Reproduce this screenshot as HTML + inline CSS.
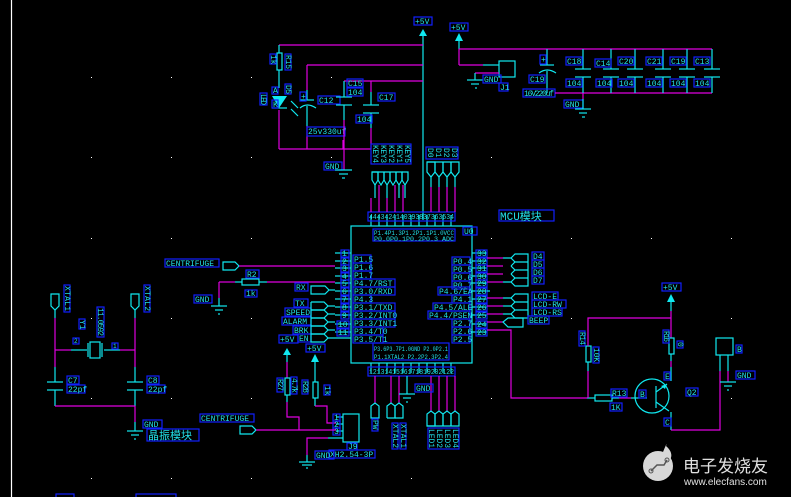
<!DOCTYPE html>
<html><head><meta charset="utf-8"><style>
html,body{margin:0;padding:0;background:#000;}
svg{display:block;}
text{font-family:"Liberation Mono","Noto Sans CJK SC",monospace;fill:#22e0e8;font-size:8px;}
.c{stroke:#10e8f0;stroke-width:1.2;fill:none;}
.m{stroke:#e000e0;stroke-width:1.2;fill:none;}
.b{stroke:#1020ff;stroke-width:1.2;fill:none;}
.f{fill:#10e8f0;stroke:none;}
.d{fill:#fff;}
</style></head><body>
<svg width="791" height="497" viewBox="0 0 791 497" xmlns="http://www.w3.org/2000/svg">
<rect width="791" height="497" fill="#000"/>
<line x1="11.5" y1="0" x2="11.5" y2="497" stroke="#fff" stroke-width="1.2"/>
<g class="d">
<rect x="91" y="77" width="1" height="1"/><rect x="171" y="77" width="1" height="1"/><rect x="251" y="77" width="1" height="1"/><rect x="331" y="77" width="1" height="1"/>
<rect x="91" y="157" width="1" height="1"/><rect x="171" y="157" width="1" height="1"/><rect x="251" y="157" width="1" height="1"/><rect x="331" y="157" width="1" height="1"/><rect x="491" y="157" width="1" height="1"/>
<rect x="91" y="238" width="1" height="1"/><rect x="171" y="238" width="1" height="1"/><rect x="251" y="238" width="1" height="1"/><rect x="491" y="238" width="1" height="1"/><rect x="571" y="238" width="1" height="1"/><rect x="651" y="238" width="1" height="1"/><rect x="731" y="238" width="1" height="1"/>
<rect x="91" y="318" width="1" height="1"/><rect x="171" y="318" width="1" height="1"/><rect x="251" y="318" width="1" height="1"/><rect x="571" y="318" width="1" height="1"/><rect x="731" y="318" width="1" height="1"/>
<rect x="91" y="398" width="1" height="1"/><rect x="171" y="398" width="1" height="1"/><rect x="251" y="398" width="1" height="1"/><rect x="491" y="398" width="1" height="1"/><rect x="731" y="398" width="1" height="1"/>
<rect x="91" y="478" width="1" height="1"/><rect x="171" y="478" width="1" height="1"/><rect x="251" y="478" width="1" height="1"/><rect x="411" y="478" width="1" height="1"/>
</g>

<rect class="b" x="414" y="17" width="18" height="8"/><text x="415" y="24">+5V</text>
<polygon class="f" points="423,29 419,36 427,36"/>
<line class="c" x1="423" y1="36" x2="423" y2="220"/>
<line class="m" x1="279" y1="45" x2="423" y2="45"/>
<line class="m" x1="307" y1="65" x2="423" y2="65"/>
<line class="m" x1="344" y1="81" x2="423" y2="81"/>
<line class="m" x1="279" y1="149" x2="371" y2="149"/>
<line class="c" x1="279" y1="45" x2="279" y2="53"/>
<rect class="c" x="277" y="53" width="5" height="17"/>
<line class="c" x1="279" y1="70" x2="279" y2="88"/>
<rect class="b" x="270" y="54" width="6" height="10"/><text transform="translate(271,55) rotate(90)">1k</text>
<rect class="b" x="285" y="54" width="6" height="16"/><text transform="translate(286,55) rotate(90)" textLength="14">R15</text>
<polygon class="f" points="272,96 287,96 279,108"/>
<line class="c" x1="272" y1="108" x2="287" y2="108"/>
<line class="m" x1="279" y1="110" x2="279" y2="149"/>
<line class="c" x1="291" y1="101" x2="298" y2="108"/><line class="c" x1="291" y1="109" x2="298" y2="116"/>
<rect class="b" x="272" y="87" width="6" height="7"/><text x="273" y="93">A</text>
<rect class="b" x="285" y="84" width="6" height="10"/><text transform="translate(286,85) rotate(90)" textLength="9">D5</text>
<rect class="b" x="260" y="93" width="7" height="12"/><text transform="translate(261,94) rotate(90)" textLength="11">LED</text>
<rect class="b" x="272" y="100" width="6" height="8"/><text x="273" y="107">K</text>
<line class="m" x1="307" y1="65" x2="307" y2="90"/>
<line class="c" x1="307" y1="90" x2="307" y2="100"/>
<line class="c" x1="300" y1="100" x2="314" y2="100"/>
<path class="c" d="M300,108 Q307,102 316,108"/>
<line class="c" x1="307" y1="106" x2="307" y2="126"/>
<line class="m" x1="307" y1="126" x2="307" y2="149"/>
<rect class="b" x="300" y="92" width="6" height="9"/><text x="301" y="99">+</text>
<rect class="b" x="318" y="96" width="22" height="8"/><text x="319" y="103">C12</text>
<rect class="b" x="307" y="127" width="38" height="9"/><text x="308" y="134">25v330uf</text>
<line class="c" x1="344" y1="81" x2="344" y2="97"/>
<line class="c" x1="336" y1="97" x2="352" y2="97"/><line class="c" x1="336" y1="105" x2="352" y2="105"/>
<line class="c" x1="344" y1="105" x2="344" y2="120"/>
<line class="m" x1="344" y1="120" x2="344" y2="170"/>
<rect class="b" x="347" y="79" width="16" height="8"/><text x="348" y="86">C15</text>
<rect class="b" x="347" y="88" width="16" height="8"/><text x="348" y="95">104</text>
<line class="m" x1="371" y1="81" x2="371" y2="92"/>
<line class="c" x1="371" y1="92" x2="371" y2="105"/>
<line class="c" x1="363" y1="105" x2="379" y2="105"/><line class="c" x1="363" y1="113" x2="379" y2="113"/>
<line class="c" x1="371" y1="113" x2="371" y2="128"/>
<line class="m" x1="371" y1="128" x2="371" y2="149"/>
<rect class="b" x="378" y="93" width="17" height="8"/><text x="379" y="100">C17</text>
<rect class="b" x="356" y="115" width="16" height="8"/><text x="357" y="122">104</text>
<rect class="b" x="324" y="162" width="18" height="8"/><text x="325" y="169">GND</text>
<line class="c" x1="335" y1="170" x2="352" y2="170"/><line class="c" x1="339" y1="174" x2="348" y2="174"/><line class="c" x1="342" y1="178" x2="345" y2="178"/>

<rect class="b" x="450" y="23" width="18" height="8"/><text x="451" y="30">+5V</text>
<polygon class="f" points="459,33 455,41 463,41"/>
<line class="c" x1="459" y1="41" x2="459" y2="49"/>
<line class="m" x1="459" y1="49" x2="712" y2="49"/>
<line class="m" x1="459" y1="49" x2="459" y2="65"/>
<line class="m" x1="459" y1="65" x2="483" y2="65"/>
<line class="c" x1="483" y1="65" x2="499" y2="65"/>
<rect class="c" x="499" y="61" width="16" height="16"/>
<line class="m" x1="475" y1="73" x2="499" y2="73"/>
<line class="c" x1="475" y1="73" x2="475" y2="80"/>
<line class="c" x1="467" y1="80" x2="483" y2="80"/><line class="c" x1="471" y1="84" x2="479" y2="84"/><line class="c" x1="475" y1="88" x2="477" y2="88"/>
<rect class="b" x="483" y="75" width="18" height="8"/><text x="484" y="82">GND</text>
<rect class="b" x="499" y="83" width="9" height="8"/><text x="500" y="90">J1</text>
<line class="c" x1="547" y1="49" x2="547" y2="65"/>
<line class="c" x1="540" y1="65" x2="554" y2="65"/>
<path class="c" d="M539,73 Q547,67 556,73"/>
<line class="c" x1="547" y1="71" x2="547" y2="93"/>
<rect class="b" x="540" y="55" width="6" height="9"/><text x="541" y="62">+</text>
<rect class="b" x="529" y="75" width="16" height="8"/><text x="530" y="82">C19</text>
<rect class="b" x="523" y="89" width="32" height="8"/><text x="524" y="96" textLength="30">16V220uf</text>
<line class="m" x1="555" y1="93" x2="712" y2="93"/>
<g>
<line class="c" x1="583" y1="49" x2="583" y2="69"/><line class="c" x1="575" y1="69" x2="591" y2="69"/><line class="c" x1="575" y1="77" x2="591" y2="77"/><line class="c" x1="583" y1="77" x2="583" y2="93"/>
<line class="c" x1="611" y1="49" x2="611" y2="69"/><line class="c" x1="603" y1="69" x2="619" y2="69"/><line class="c" x1="603" y1="77" x2="619" y2="77"/><line class="c" x1="611" y1="77" x2="611" y2="93"/>
<line class="c" x1="635" y1="49" x2="635" y2="69"/><line class="c" x1="627" y1="69" x2="643" y2="69"/><line class="c" x1="627" y1="77" x2="643" y2="77"/><line class="c" x1="635" y1="77" x2="635" y2="93"/>
<line class="c" x1="663" y1="49" x2="663" y2="69"/><line class="c" x1="655" y1="69" x2="671" y2="69"/><line class="c" x1="655" y1="77" x2="671" y2="77"/><line class="c" x1="663" y1="77" x2="663" y2="93"/>
<line class="c" x1="687" y1="49" x2="687" y2="69"/><line class="c" x1="679" y1="69" x2="695" y2="69"/><line class="c" x1="679" y1="77" x2="695" y2="77"/><line class="c" x1="687" y1="77" x2="687" y2="93"/>
<line class="c" x1="712" y1="49" x2="712" y2="69"/><line class="c" x1="704" y1="69" x2="720" y2="69"/><line class="c" x1="704" y1="77" x2="720" y2="77"/><line class="c" x1="712" y1="77" x2="712" y2="93"/>
</g>
<rect class="b" x="566" y="57" width="16" height="8"/><text x="567" y="64">C18</text>
<rect class="b" x="595" y="59" width="16" height="8"/><text x="596" y="66">C14</text>
<rect class="b" x="618" y="57" width="16" height="8"/><text x="619" y="64">C20</text>
<rect class="b" x="646" y="57" width="16" height="8"/><text x="647" y="64">C21</text>
<rect class="b" x="670" y="57" width="16" height="8"/><text x="671" y="64">C19</text>
<rect class="b" x="694" y="57" width="16" height="8"/><text x="695" y="64">C13</text>
<rect class="b" x="566" y="79" width="16" height="8"/><text x="567" y="86">104</text>
<rect class="b" x="596" y="79" width="16" height="8"/><text x="597" y="86">104</text>
<rect class="b" x="618" y="79" width="16" height="8"/><text x="619" y="86">104</text>
<rect class="b" x="646" y="79" width="16" height="8"/><text x="647" y="86">104</text>
<rect class="b" x="670" y="79" width="16" height="8"/><text x="671" y="86">104</text>
<rect class="b" x="694" y="79" width="16" height="8"/><text x="695" y="86">104</text>
<line class="m" x1="583" y1="93" x2="583" y2="99"/>
<rect class="b" x="564" y="100" width="19" height="8"/><text x="565" y="107">GND</text>
<line class="c" x1="583" y1="99" x2="583" y2="109"/>
<line class="c" x1="575" y1="109" x2="591" y2="109"/><line class="c" x1="579" y1="113" x2="587" y2="113"/><line class="c" x1="582" y1="117" x2="585" y2="117"/>

<rect class="c" x="351" y="226" width="121" height="137"/>
<rect class="b" x="463" y="227" width="14" height="8"/><text x="464" y="234">U0</text>
<rect class="b" x="499" y="210" width="55" height="11"/><text x="500" y="220" style="font-size:11px">MCU模块</text>
<g>
<line class="c" x1="371" y1="215" x2="371" y2="226"/><line class="c" x1="379" y1="215" x2="379" y2="226"/><line class="c" x1="387" y1="215" x2="387" y2="226"/><line class="c" x1="395" y1="215" x2="395" y2="226"/><line class="c" x1="403" y1="215" x2="403" y2="226"/><line class="c" x1="411" y1="215" x2="411" y2="226"/><line class="c" x1="419" y1="215" x2="419" y2="226"/><line class="c" x1="427" y1="215" x2="427" y2="226"/><line class="c" x1="435" y1="215" x2="435" y2="226"/><line class="c" x1="443" y1="215" x2="443" y2="226"/><line class="c" x1="451" y1="215" x2="451" y2="226"/>
</g>
<rect class="b" x="368" y="212" width="87" height="9"/>
<text x="369" y="219" style="font-size:7px" textLength="85" lengthAdjust="spacingAndGlyphs">4443424140393837363534</text>
<rect class="b" x="373" y="229" width="82" height="12"/>
<text x="374" y="235" style="font-size:6px" textLength="80" lengthAdjust="spacingAndGlyphs">P1.4P1.3P1.2P1.1P1.0VCC</text>
<text x="374" y="241" style="font-size:6px" textLength="80" lengthAdjust="spacingAndGlyphs">P0.0P0.1P0.2P0.3 ADC</text>
<g class="c">
<path d="M372,172 V180 L375,185 L378,180 V172 Z"/><path d="M378,172 V180 L381,185 L384,180 V172"/><path d="M384,172 V180 L387,185 L390,180 V172"/><path d="M390,172 V180 L393,185 L396,180 V172"/><path d="M396,172 V180 L399,185 L402,180 V172 H372"/><path d="M402,172 V180 L405,185 L408,180 V172 H402"/>
<path d="M427,162 V172 L431,177 L435,172 V162 Z"/><path d="M435,162 V172 L439,177 L443,172 V162"/><path d="M443,162 V172 L447,177 L451,172 V162"/><path d="M451,162 V172 L455,177 L459,172 V162 H427"/>
<line x1="375" y1="185" x2="375" y2="198"/><line x1="387" y1="185" x2="387" y2="198"/><line x1="399" y1="185" x2="399" y2="198"/><line x1="405" y1="185" x2="405" y2="198"/>
<line x1="431" y1="177" x2="431" y2="187"/><line x1="439" y1="177" x2="439" y2="187"/><line x1="447" y1="177" x2="447" y2="187"/><line x1="455" y1="177" x2="455" y2="187"/>
</g>
<g class="m"><line x1="379" y1="185" x2="379" y2="212"/><line x1="387" y1="198" x2="387" y2="212"/><line x1="395" y1="185" x2="395" y2="212"/><line x1="403" y1="185" x2="403" y2="212"/><line x1="371" y1="198" x2="371" y2="212"/>
<line x1="431" y1="187" x2="431" y2="212"/><line x1="439" y1="187" x2="439" y2="212"/><line x1="447" y1="187" x2="447" y2="212"/><line x1="455" y1="187" x2="455" y2="212"/>
<line x1="343" y1="140" x2="343" y2="149"/>
</g>
<rect class="b" x="371" y="144" width="40" height="20"/>
<text transform="translate(373,145) rotate(90)" textLength="18">KEY4</text><text transform="translate(381,145) rotate(90)" textLength="18">KEY3</text><text transform="translate(389,145) rotate(90)" textLength="18">KEY2</text><text transform="translate(397,145) rotate(90)" textLength="18">KEY1</text><text transform="translate(405,145) rotate(90)" textLength="18">KEY5</text>
<rect class="b" x="426" y="147" width="32" height="12"/>
<text transform="translate(428,148) rotate(90)">D0</text><text transform="translate(436,148) rotate(90)">D1</text><text transform="translate(444,148) rotate(90)">D2</text><text transform="translate(452,148) rotate(90)">D3</text>

<g class="c">
<line x1="335" y1="253" x2="351" y2="253"/><line x1="335" y1="261" x2="351" y2="261"/><line x1="335" y1="268" x2="351" y2="268"/><line x1="335" y1="276" x2="351" y2="276"/><line x1="335" y1="283" x2="351" y2="283"/><line x1="335" y1="291" x2="351" y2="291"/><line x1="335" y1="299" x2="351" y2="299"/><line x1="335" y1="307" x2="351" y2="307"/><line x1="335" y1="315" x2="351" y2="315"/><line x1="335" y1="324" x2="351" y2="324"/><line x1="335" y1="332" x2="351" y2="332"/>
</g>
<g>
<rect class="b" x="341" y="250" width="8" height="7"/><text x="342" y="256">1</text>
<rect class="b" x="341" y="258" width="8" height="7"/><text x="342" y="264">2</text>
<rect class="b" x="341" y="265" width="8" height="7"/><text x="342" y="271">3</text>
<rect class="b" x="341" y="273" width="8" height="7"/><text x="342" y="279">4</text>
<rect class="b" x="341" y="280" width="8" height="7"/><text x="342" y="286">5</text>
<rect class="b" x="341" y="288" width="8" height="7"/><text x="342" y="294">6</text>
<rect class="b" x="341" y="296" width="8" height="7"/><text x="342" y="302">7</text>
<rect class="b" x="341" y="304" width="8" height="7"/><text x="342" y="310">8</text>
<rect class="b" x="341" y="312" width="8" height="7"/><text x="342" y="318">9</text>
<rect class="b" x="337" y="321" width="12" height="7"/><text x="338" y="327">10</text>
<rect class="b" x="337" y="329" width="12" height="7"/><text x="338" y="335">11</text>
</g>
<g>
<rect class="b" x="353" y="255" width="18" height="8"/><text x="354" y="262">P1.5</text>
<rect class="b" x="353" y="263" width="18" height="8"/><text x="354" y="270">P1.6</text>
<rect class="b" x="353" y="271" width="18" height="8"/><text x="354" y="278">P1.7</text>
<rect class="b" x="353" y="279" width="42" height="8"/><text x="354" y="286">P4.7/RST</text>
<rect class="b" x="353" y="287" width="42" height="8"/><text x="354" y="294">P3.0/RXD</text>
<rect class="b" x="353" y="295" width="18" height="8"/><text x="354" y="302">P4.3</text>
<rect class="b" x="353" y="303" width="42" height="8"/><text x="354" y="310">P3.1/TXD</text>
<rect class="b" x="353" y="311" width="42" height="8"/><text x="354" y="318">P3.2/INT0</text>
<rect class="b" x="353" y="319" width="42" height="8"/><text x="354" y="326">P3.3/INT1</text>
<rect class="b" x="353" y="327" width="30" height="8"/><text x="354" y="334">P3.4/T0</text>
<rect class="b" x="353" y="335" width="30" height="8"/><text x="354" y="342">P3.5/T1</text>
</g>
<g class="c">
<line x1="472" y1="253" x2="487" y2="253"/><line x1="472" y1="261" x2="487" y2="261"/><line x1="472" y1="268" x2="487" y2="268"/><line x1="472" y1="276" x2="487" y2="276"/><line x1="472" y1="283" x2="487" y2="283"/><line x1="472" y1="291" x2="487" y2="291"/><line x1="472" y1="299" x2="487" y2="299"/><line x1="472" y1="307" x2="487" y2="307"/><line x1="472" y1="315" x2="487" y2="315"/><line x1="472" y1="324" x2="487" y2="324"/><line x1="472" y1="332" x2="487" y2="332"/>
</g>
<g>
<rect class="b" x="476" y="250" width="11" height="7"/><text x="477" y="256">33</text>
<rect class="b" x="476" y="258" width="11" height="7"/><text x="477" y="264">32</text>
<rect class="b" x="476" y="265" width="11" height="7"/><text x="477" y="271">31</text>
<rect class="b" x="476" y="273" width="11" height="7"/><text x="477" y="279">30</text>
<rect class="b" x="476" y="280" width="11" height="7"/><text x="477" y="286">29</text>
<rect class="b" x="476" y="288" width="11" height="7"/><text x="477" y="294">28</text>
<rect class="b" x="476" y="296" width="11" height="7"/><text x="477" y="302">27</text>
<rect class="b" x="476" y="304" width="11" height="7"/><text x="477" y="310">26</text>
<rect class="b" x="476" y="312" width="11" height="7"/><text x="477" y="318">25</text>
<rect class="b" x="476" y="321" width="11" height="7"/><text x="477" y="327">24</text>
<rect class="b" x="476" y="329" width="11" height="7"/><text x="477" y="335">23</text>
</g>
<g>
<rect class="b" x="452" y="257" width="18" height="8"/><text x="453" y="264">P0.4</text>
<rect class="b" x="452" y="265" width="18" height="8"/><text x="453" y="272">P0.5</text>
<rect class="b" x="452" y="273" width="18" height="8"/><text x="453" y="280">P0.6</text>
<rect class="b" x="452" y="281" width="18" height="8"/><text x="453" y="288">P0.7</text>
<rect class="b" x="438" y="287" width="32" height="8"/><text x="439" y="294">P4.6/EA</text>
<rect class="b" x="452" y="295" width="18" height="8"/><text x="453" y="302">P4.1</text>
<rect class="b" x="433" y="303" width="37" height="8"/><text x="434" y="310">P4.5/ALE</text>
<rect class="b" x="428" y="311" width="42" height="8"/><text x="429" y="318">P4.4/PSEN</text>
<rect class="b" x="452" y="319" width="18" height="8"/><text x="453" y="326">P2.7</text>
<rect class="b" x="452" y="327" width="18" height="8"/><text x="453" y="334">P2.6</text>
<rect class="b" x="452" y="335" width="18" height="8"/><text x="453" y="342">P2.5</text>
</g>
<g class="c">
<line x1="371" y1="363" x2="371" y2="373"/><line x1="379" y1="363" x2="379" y2="373"/><line x1="387" y1="363" x2="387" y2="373"/><line x1="395" y1="363" x2="395" y2="373"/><line x1="403" y1="363" x2="403" y2="373"/><line x1="411" y1="363" x2="411" y2="373"/><line x1="419" y1="363" x2="419" y2="373"/><line x1="427" y1="363" x2="427" y2="373"/><line x1="435" y1="363" x2="435" y2="373"/><line x1="443" y1="363" x2="443" y2="373"/><line x1="451" y1="363" x2="451" y2="373"/>
</g>
<rect class="b" x="373" y="343" width="76" height="17"/>
<text x="374" y="351" style="font-size:6px" textLength="74" lengthAdjust="spacingAndGlyphs">P3.6P3.7P1.0GND P2.0P2.1</text>
<text x="374" y="359" style="font-size:6px" textLength="74" lengthAdjust="spacingAndGlyphs">P1.1XTAL2 P2.2P2.3P2.4</text>
<rect class="b" x="368" y="367" width="87" height="9"/>
<text x="369" y="374" style="font-size:7px" textLength="85" lengthAdjust="spacingAndGlyphs">1213141516171819202122</text>
<g class="m"><line x1="375" y1="376" x2="375" y2="403"/><line x1="391" y1="376" x2="391" y2="403"/><line x1="431" y1="376" x2="431" y2="411"/><line x1="439" y1="376" x2="439" y2="411"/><line x1="447" y1="376" x2="447" y2="411"/><line x1="455" y1="376" x2="455" y2="411"/><line x1="399" y1="376" x2="399" y2="403"/></g>
<line class="c" x1="407" y1="376" x2="407" y2="394"/>
<line class="c" x1="399" y1="394" x2="415" y2="394"/><line class="c" x1="403" y1="398" x2="411" y2="398"/><line class="c" x1="406" y1="402" x2="408" y2="402"/>
<rect class="b" x="415" y="384" width="18" height="8"/><text x="416" y="391">GND</text>
<g class="c">
<path d="M371,418 V406 L375,403 L379,406 V418 Z"/>
<path d="M387,418 V406 L391,403 L395,406 V418 H387"/><path d="M395,418 V406 L399,403 L403,406 V418 H395"/>
<path d="M427,426 V414 L431,411 L435,414 V426 Z"/><path d="M435,426 V414 L439,411 L443,414 V426"/><path d="M443,426 V414 L447,411 L451,414 V426"/><path d="M451,426 V414 L455,411 L459,414 V426 H427"/>
</g>
<rect class="b" x="372" y="419" width="6" height="12"/><text transform="translate(373,420) rotate(90)">PW</text>
<rect class="b" x="392" y="423" width="6" height="26"/><text transform="translate(393,424) rotate(90)" textLength="24">XTAL2</text>
<rect class="b" x="400" y="423" width="6" height="26"/><text transform="translate(401,424) rotate(90)" textLength="24">XTAL1</text>
<rect class="b" x="428" y="428" width="31" height="21"/>
<text transform="translate(429,429) rotate(90)" textLength="19">LED1</text><text transform="translate(437,429) rotate(90)" textLength="19">LED2</text><text transform="translate(445,429) rotate(90)" textLength="19">LED3</text><text transform="translate(453,429) rotate(90)" textLength="19">LED4</text>

<rect class="b" x="165" y="259" width="54" height="8"/><text x="166" y="266">CENTRIFUGE</text>
<path class="c" d="M223,262 H235 L239,266 L235,270 H223 Z"/>
<line class="m" x1="239" y1="266" x2="335" y2="266"/>
<rect class="b" x="246" y="270" width="13" height="8"/><text x="247" y="277">R2</text>
<line class="m" x1="219" y1="282" x2="235" y2="282"/>
<line class="c" x1="235" y1="282" x2="242" y2="282"/>
<rect class="c" x="242" y="279" width="17" height="6"/>
<line class="c" x1="259" y1="282" x2="267" y2="282"/>
<line class="m" x1="267" y1="282" x2="335" y2="282"/>
<rect class="b" x="245" y="290" width="12" height="7"/><text x="246" y="296">1k</text>
<line class="m" x1="219" y1="282" x2="219" y2="298"/>
<line class="c" x1="219" y1="298" x2="219" y2="306"/>
<line class="c" x1="211" y1="306" x2="227" y2="306"/><line class="c" x1="215" y1="310" x2="223" y2="310"/><line class="c" x1="218" y1="314" x2="220" y2="314"/>
<rect class="b" x="194" y="295" width="18" height="8"/><text x="195" y="302">GND</text>
<rect class="b" x="295" y="283" width="13" height="8"/><text x="296" y="290">RX</text>
<path class="c" d="M311,286 H325 L329,290 L325,294 H311 Z"/><line class="c" x1="329" y1="290" x2="335" y2="290"/>
<rect class="b" x="294" y="299" width="14" height="8"/><text x="295" y="306">TX</text>
<rect class="b" x="285" y="308" width="26" height="8"/><text x="286" y="315">SPEED</text>
<rect class="b" x="282" y="317" width="29" height="8"/><text x="283" y="324">ALARM</text>
<rect class="b" x="293" y="326" width="18" height="8"/><text x="294" y="333">BRK</text>
<rect class="b" x="298" y="334" width="13" height="8"/><text x="299" y="341">EN</text>
<g class="c">
<path d="M311,302 H324 L328,306 L324,310 H311"/><path d="M311,310 H324 L328,314 L324,318 H311"/><path d="M311,318 H324 L328,322 L324,326 H311"/><path d="M311,326 H324 L328,330 L324,334 H311"/><path d="M311,334 H324 L328,338 L324,342 H311 V302"/>
<line x1="328" y1="306" x2="335" y2="306"/><line x1="328" y1="314" x2="335" y2="314"/><line x1="328" y1="322" x2="335" y2="322"/><line x1="328" y1="330" x2="335" y2="330"/><line x1="328" y1="338" x2="351" y2="338"/>
</g>
<rect class="b" x="279" y="335" width="19" height="8"/><text x="280" y="342">+5V</text>
<polygon class="f" points="287,348 283,355 291,355"/>
<line class="c" x1="287" y1="355" x2="287" y2="362"/><line class="m" x1="287" y1="362" x2="287" y2="378"/>
<rect class="c" x="285" y="378" width="5" height="17"/>
<line class="c" x1="287" y1="395" x2="287" y2="402"/>
<path class="m" d="M287,402 V417 H299 V430"/>
<rect class="b" x="277" y="378" width="6" height="14"/><text transform="translate(278,379) rotate(90)" textLength="12">R27</text>
<rect class="b" x="291" y="377" width="6" height="17"/><text transform="translate(292,378) rotate(90)" textLength="15">4.7k</text>
<rect class="b" x="306" y="344" width="19" height="8"/><text x="307" y="351">+5V</text>
<polygon class="f" points="315,354 311,362 319,362"/>
<line class="c" x1="315" y1="362" x2="315" y2="382"/>
<rect class="c" x="313" y="382" width="5" height="16"/>
<line class="c" x1="315" y1="398" x2="315" y2="406"/>
<path class="m" d="M315,406 H327 V423 H336"/>
<rect class="b" x="302" y="380" width="6" height="14"/><text transform="translate(303,381) rotate(90)" textLength="12">R28</text>
<rect class="b" x="324" y="385" width="6" height="10"/><text transform="translate(325,386) rotate(90)">1k</text>
<rect class="c" x="343" y="414" width="16" height="28"/>
<line class="c" x1="336" y1="417" x2="343" y2="417"/><line class="c" x1="336" y1="424" x2="343" y2="424"/><line class="c" x1="336" y1="431" x2="343" y2="431"/>
<rect class="b" x="333" y="414" width="7" height="7"/><text x="334" y="420">1</text>
<rect class="b" x="333" y="421" width="7" height="7"/><text x="334" y="427">2</text>
<rect class="b" x="333" y="428" width="7" height="7"/><text x="334" y="434">3</text>
<rect class="b" x="347" y="443" width="10" height="7"/><text x="348" y="449">J9</text>
<rect class="b" x="329" y="450" width="46" height="8"/><text x="330" y="457">XH2.54-3P</text>
<rect class="b" x="200" y="414" width="54" height="8"/><text x="201" y="421">CENTRIFUGE</text>
<path class="c" d="M240,426 H252 L256,430 L252,434 H240 Z"/>
<line class="m" x1="256" y1="430" x2="336" y2="430"/>
<path class="m" d="M307,455 V438 H328"/><line class="c" x1="328" y1="438" x2="343" y2="438"/>
<line class="c" x1="299" y1="462" x2="315" y2="462"/><line class="c" x1="302" y1="465" x2="312" y2="465"/><line class="c" x1="306" y1="468" x2="308" y2="468"/>
<line class="c" x1="307" y1="455" x2="307" y2="462"/>
<rect class="b" x="315" y="451" width="19" height="8"/><text x="316" y="458">GND</text>

<path class="c" d="M51,294 V306 L55,310 L59,306 V294 Z"/>
<path class="c" d="M131,294 V306 L135,310 L139,306 V294 Z"/>
<line class="c" x1="55" y1="310" x2="55" y2="318"/><line class="c" x1="135" y1="310" x2="135" y2="318"/>
<line class="m" x1="55" y1="318" x2="55" y2="367"/><line class="m" x1="135" y1="318" x2="135" y2="367"/>
<rect class="b" x="64" y="285" width="6" height="27"/><text transform="translate(65,286) rotate(90)" textLength="25">XTAL1</text>
<rect class="b" x="144" y="285" width="6" height="27"/><text transform="translate(145,286) rotate(90)" textLength="25">XTAL2</text>
<line class="m" x1="55" y1="350" x2="71" y2="350"/><line class="c" x1="71" y1="350" x2="87" y2="350"/>
<line class="c" x1="88" y1="343" x2="88" y2="357"/><line class="c" x1="102" y1="343" x2="102" y2="357"/>
<rect class="c" x="90" y="342" width="10" height="16"/>
<line class="c" x1="104" y1="350" x2="120" y2="350"/><line class="m" x1="120" y1="350" x2="135" y2="350"/>
<rect class="b" x="73" y="338" width="6" height="6"/><text x="74" y="343" style="font-size:6px">2</text>
<rect class="b" x="112" y="343" width="6" height="6"/><text x="113" y="348" style="font-size:6px">1</text>
<rect class="b" x="79" y="319" width="6" height="10"/><text transform="translate(80,320) rotate(90)">Y1</text>
<rect class="b" x="97" y="307" width="7" height="30"/><text transform="translate(98,308) rotate(90)" textLength="28">11.0592</text>
<line class="c" x1="55" y1="367" x2="55" y2="382"/><line class="c" x1="47" y1="382" x2="63" y2="382"/><line class="c" x1="47" y1="390" x2="63" y2="390"/><line class="c" x1="55" y1="390" x2="55" y2="406"/>
<line class="c" x1="135" y1="367" x2="135" y2="382"/><line class="c" x1="127" y1="382" x2="143" y2="382"/><line class="c" x1="127" y1="390" x2="143" y2="390"/><line class="c" x1="135" y1="390" x2="135" y2="406"/>
<rect class="b" x="67" y="376" width="12" height="8"/><text x="68" y="383">C7</text>
<rect class="b" x="67" y="385" width="18" height="8"/><text x="68" y="392">22pf</text>
<rect class="b" x="147" y="376" width="12" height="8"/><text x="148" y="383">C8</text>
<rect class="b" x="147" y="385" width="18" height="8"/><text x="148" y="392">22pf</text>
<line class="m" x1="55" y1="406" x2="135" y2="406"/>
<line class="m" x1="135" y1="406" x2="135" y2="422"/><line class="c" x1="135" y1="422" x2="135" y2="431"/>
<line class="c" x1="127" y1="431" x2="143" y2="431"/><line class="c" x1="131" y1="435" x2="139" y2="435"/><line class="c" x1="134" y1="439" x2="136" y2="439"/>
<rect class="b" x="143" y="420" width="19" height="8"/><text x="144" y="427">GND</text>
<rect class="b" x="147" y="429" width="52" height="12"/><text x="148" y="439" style="font-size:11px">晶振模块</text>

<g class="m"><line x1="487" y1="258" x2="503" y2="258"/><line x1="487" y1="266" x2="503" y2="266"/><line x1="487" y1="274" x2="503" y2="274"/><line x1="487" y1="282" x2="503" y2="282"/>
<line x1="487" y1="298" x2="503" y2="298"/><line x1="487" y1="306" x2="503" y2="306"/><line x1="487" y1="314" x2="503" y2="314"/><line x1="487" y1="322" x2="503" y2="322"/></g>
<g class="c">
<path d="M503,258 H511 L515,254 H528 V286 H515 L511,282 H503"/><path d="M511,266 L515,262 H528"/><path d="M511,266 L515,270 H528"/><path d="M511,274 L515,278 H528"/><path d="M511,274 L515,270"/><path d="M511,258 L515,262"/><path d="M511,282 L515,278"/>
<path d="M503,298 H511 L515,294 H528 V318 H515 L511,314 H503"/><path d="M511,298 L515,302 H528"/><path d="M511,306 L515,302"/><path d="M511,306 L515,310 H528"/><path d="M511,314 L515,310"/><line x1="503" y1="306" x2="511" y2="306"/>
<path d="M503,322 L508,318 H523 V327 H508 Z"/>
<line x1="487" y1="291" x2="490" y2="291"/>
</g>
<rect class="b" x="532" y="252" width="12" height="8"/><text x="533" y="259">D4</text>
<rect class="b" x="532" y="260" width="12" height="8"/><text x="533" y="267">D5</text>
<rect class="b" x="532" y="268" width="12" height="8"/><text x="533" y="275">D6</text>
<rect class="b" x="532" y="276" width="12" height="8"/><text x="533" y="283">D7</text>
<rect class="b" x="532" y="292" width="26" height="8"/><text x="533" y="299">LCD-E</text>
<rect class="b" x="532" y="300" width="34" height="8"/><text x="533" y="307">LCD-RW</text>
<rect class="b" x="532" y="308" width="30" height="8"/><text x="533" y="315">LCD-RS</text>
<rect class="b" x="528" y="316" width="21" height="8"/><text x="529" y="323">BEEP</text>
<path class="m" d="M487,330 H511 V398 H587"/>
<line class="c" x1="587" y1="398" x2="595" y2="398"/>
<rect class="c" x="595" y="395" width="17" height="6"/>
<line class="c" x1="612" y1="398" x2="619" y2="398"/><line class="m" x1="619" y1="398" x2="631" y2="398"/><line class="c" x1="631" y1="398" x2="647" y2="398"/>
<rect class="b" x="611" y="389" width="16" height="8"/><text x="612" y="396">R13</text>
<rect class="b" x="610" y="403" width="12" height="8"/><text x="611" y="410">1K</text>
<rect class="b" x="639" y="390" width="7" height="8"/><text x="640" y="397">B</text>
<path class="m" d="M588,398 V371"/><line class="c" x1="588" y1="371" x2="588" y2="362"/>
<rect class="c" x="586" y="346" width="5" height="16"/>
<path class="m" d="M588,346 V318 H671"/>
<rect class="b" x="579" y="331" width="6" height="15"/><text transform="translate(580,332) rotate(90)" textLength="13">R14</text>
<rect class="b" x="593" y="347" width="6" height="16"/><text transform="translate(594,348) rotate(90)" textLength="14">10K</text>
<rect class="b" x="662" y="283" width="19" height="8"/><text x="663" y="290">+5V</text>
<polygon class="f" points="671,294 667,302 675,302"/>
<line class="c" x1="671" y1="302" x2="671" y2="311"/><line class="m" x1="671" y1="311" x2="671" y2="338"/>
<rect class="c" x="669" y="338" width="5" height="16"/>
<line class="c" x1="671" y1="354" x2="671" y2="361"/><line class="m" x1="671" y1="361" x2="671" y2="367"/><line class="c" x1="671" y1="367" x2="671" y2="381"/>
<rect class="b" x="663" y="330" width="6" height="13"/><text transform="translate(664,331) rotate(90)" textLength="11">R16</text>
<rect class="b" x="677" y="341" width="6" height="7"/><text transform="translate(678,342) rotate(90)">0</text>
<rect class="b" x="664" y="372" width="6" height="8"/><text x="665" y="379">E</text>
<circle class="c" cx="652" cy="396" r="17"/>
<line class="c" x1="656" y1="386" x2="656" y2="408"/>
<line class="c" x1="656" y1="392" x2="667" y2="384"/><line class="c" x1="656" y1="402" x2="669" y2="411"/>
<polygon class="f" points="667,384 661,386 665,389"/>
<line class="c" x1="671" y1="412" x2="671" y2="430"/>
<rect class="b" x="664" y="418" width="7" height="8"/><text x="665" y="425">C</text>
<rect class="b" x="686" y="388" width="12" height="8"/><text x="687" y="395">Q2</text>
<path class="m" d="M671,430 H720 V371"/>
<line class="c" x1="720" y1="371" x2="720" y2="355"/>
<rect class="c" x="716" y="338" width="17" height="17"/>
<line class="c" x1="728" y1="355" x2="728" y2="371"/><line class="m" x1="728" y1="371" x2="728" y2="382"/>
<line class="c" x1="720" y1="382" x2="736" y2="382"/><line class="c" x1="724" y1="386" x2="732" y2="386"/><line class="c" x1="727" y1="390" x2="729" y2="390"/>
<rect class="b" x="736" y="345" width="6" height="8"/><text x="737" y="352">B</text>
<rect class="b" x="736" y="371" width="19" height="8"/><text x="737" y="378">GND</text>

<rect class="b" x="56" y="494" width="18" height="4"/>
<rect class="b" x="136" y="494" width="40" height="4"/>

<circle cx="658" cy="466" r="15" fill="#d8d8d8"/>
<path d="M663,452 Q668,440 666,446 Q674,453 670,460" fill="#d8d8d8"/>
<path d="M651,471 L657,465 L664,465 L667,460" stroke="#555" stroke-width="1.5" fill="none"/>
<circle cx="651" cy="471" r="2" fill="none" stroke="#555"/><circle cx="667" cy="460" r="2" fill="none" stroke="#555"/>
<text x="683" y="472" style="font-size:17px;fill:#e0e0e0;font-family:'Noto Sans CJK SC',sans-serif">电子发烧友</text>
<text x="684" y="485" style="font-size:10px;fill:#e0e0e0;font-family:'Liberation Sans',sans-serif">www.elecfans.com</text>
</svg>
</body></html>
